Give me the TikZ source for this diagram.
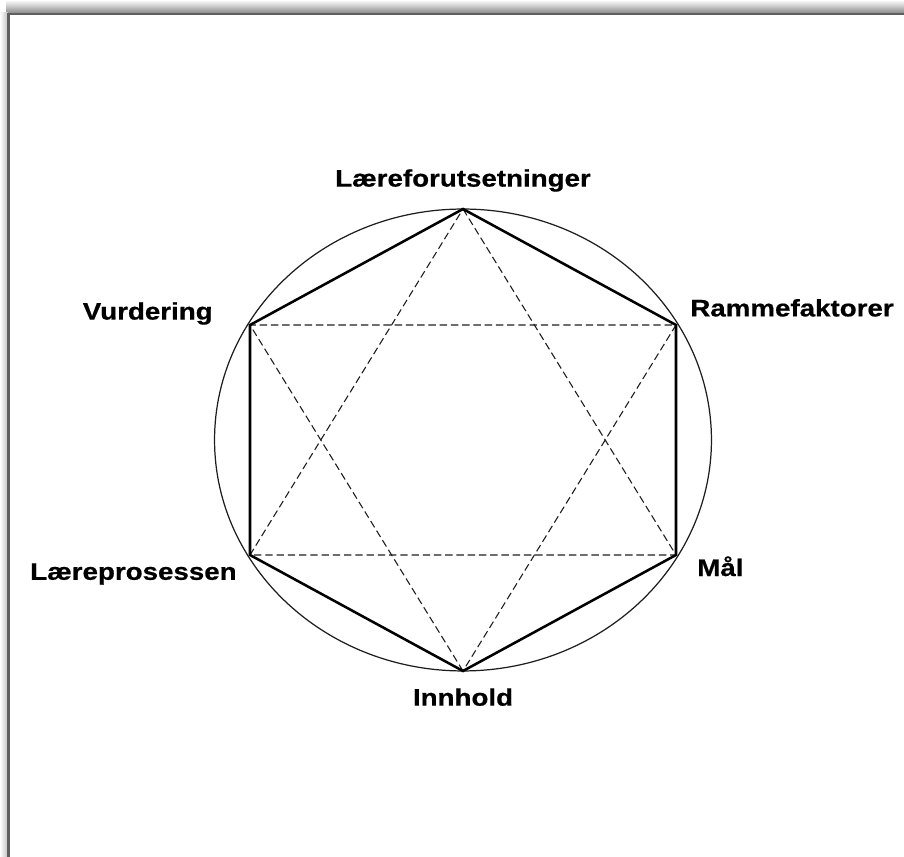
\documentclass[tikz,border=0pt]{standalone}
\usepackage{fontspec}
\setmainfont{Liberation Sans}
\newfontfamily\lblfont{Liberation Sans}[FakeStretch=1.16, BoldFeatures={FakeBold=0.6}]
\usetikzlibrary{positioning, calc}
\definecolor{cFrame}{RGB}{95,95,95}
\definecolor{cShade}{RGB}{140,140,140}
\definecolor{cLine}{RGB}{30,30,30}
\tikzset{
	lbl/.style    ={font=\lblfont\bfseries\fontsize{13.6}{16}\selectfont, inner sep=0pt},
	hexline/.style={line width=1.45pt, line join=miter, black},
	ring/.style   ={line width=0.7pt, cLine},
	guide/.style  ={dash pattern=on 4.2pt off 2.2pt, line width=0.62pt, cLine},
}

\begin{document}
\begin{tikzpicture}[x=0.02cm, y=-0.02cm]
	\useasboundingbox (0,0) rectangle (904,857);
	% frame with shadow
	\shade[top color=white, bottom color=cShade] (6,0) rectangle (904,13);
	\shade[left color=white, right color=cShade!55] (0,13) rectangle (8,857);
	\draw[cFrame, line width=1.2pt] (8.5,857) -- (8.5,14) -- (904,14);
	% corners of the hexagon
	\coordinate (top) at (463,209);
	\coordinate (tr)  at (676,325);
	\coordinate (br)  at (676,555);
	\coordinate (bot) at (463,671);
	\coordinate (bl)  at (250,555);
	\coordinate (tl)  at (250,325);
	\draw[ring] (463,440) ellipse [x radius=4.97cm, y radius=4.62cm];
	% the two triangles
	\draw[guide] (top) -- (br) -- (bl) -- cycle;
	\draw[guide] (bot) -- (tl) -- (tr) -- cycle;
	\draw[hexline] (top) -- (tr) -- (br) -- (bot) -- (bl) -- (tl) -- cycle;
	% labels
	\node[lbl, above=0.34cm of top]                  (forut)  {Læreforutsetninger};
	\node[lbl, above right=0.16cm and 0.28cm of tr] (ramme)  {Rammefaktorer};
	\node[lbl, below right=0.02cm and 0.42cm of br] (maal)   {Mål};
	\node[lbl, below=0.34cm of bot]                 (innh)   {Innhold};
	\node[lbl, below left=0.16cm and 0.26cm of bl]  (prosess){Læreprosessen};
	\node[lbl, above left=0.0cm and 0.74cm of tl]   (vurd)   {Vurdering};
\end{tikzpicture}
\end{document}
